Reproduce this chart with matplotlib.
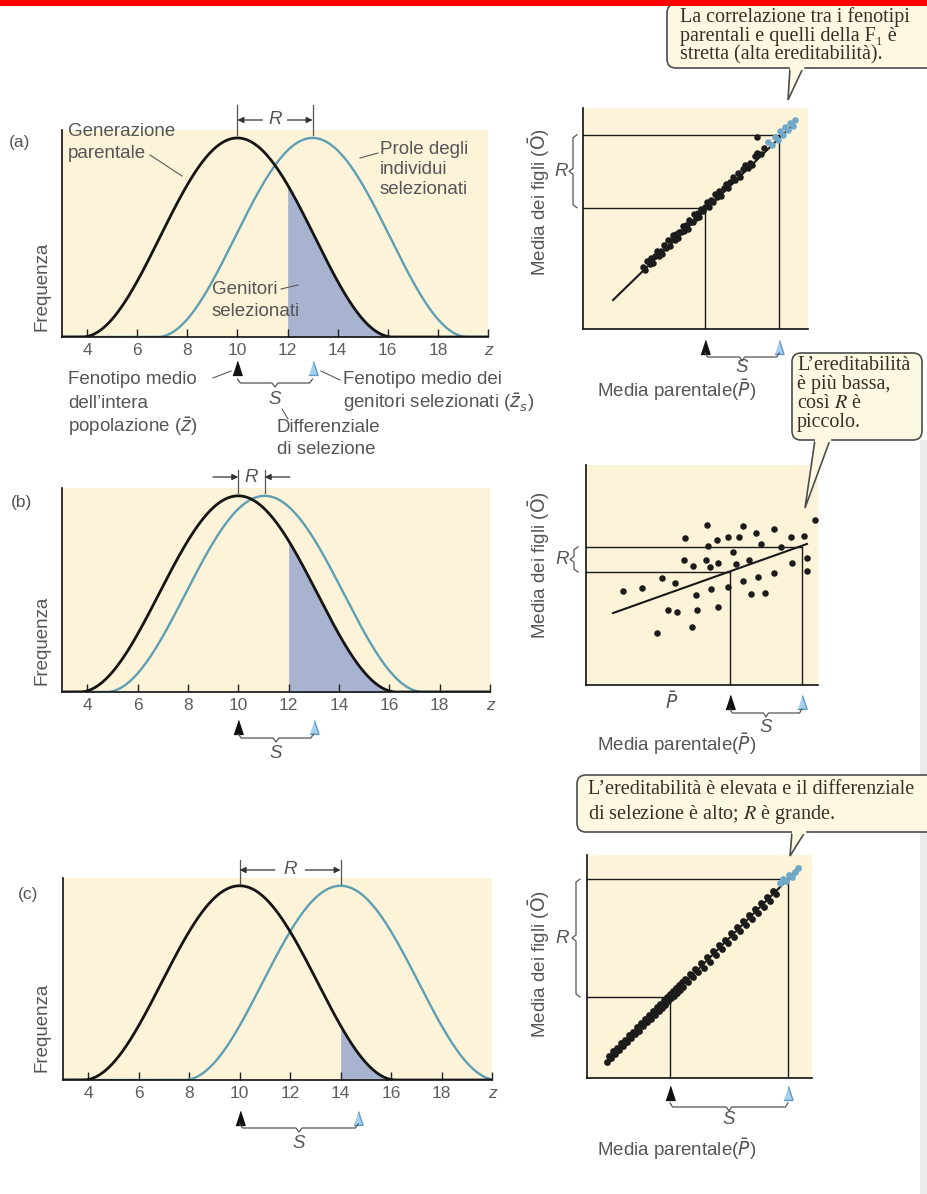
import matplotlib
matplotlib.use('Agg')
import matplotlib.pyplot as plt
import numpy as np
from matplotlib.patches import FancyBboxPatch, Polygon, Rectangle
from matplotlib.transforms import blended_transform_factory as blend

plt.rcParams['font.family'] = ['Liberation Sans', 'DejaVu Sans']

W, H = 927, 1194

# --- distribuzioni fenotipiche (pannelli a sinistra), unita di z ---
z_ticks = [4, 6, 8, 10, 12, 14, 16, 18, 20]
z_labels = ['4', '6', '8', '10', '12', '14', '16', '18', 'z']
parent_mean = [10.0, 10.0, 10.0]
offspring_mean = [13.0, 11.05, 14.0]
halfwidth = [6.2, 6.3, 6.2]
cut_off = [12.0, 12.0, 14.0]
selected_mean = [13.0, 13.0, 14.7]

# --- regressione genitori-figli (pannelli a destra) ---
S_diff = [3.0, 3.0, 4.7]
R_resp = [3.0, 1.05, 4.7]
reg_x = [[6.27, 13.57], [5.13, 13.21], [7.49, 15.18]]
reg_y = [[6.21, 13.42], [8.29, 11.17], [7.45, 15.18]]
right_xlim = [(5.05, 14.17), (4.0, 13.67), (6.69, 15.66)]
right_ylim = [(5.02, 14.1), (5.29, 14.46), (6.77, 15.66)]

pa_x = [7.50, 7.58, 7.66, 7.75, 7.82, 7.90, 7.98, 8.05, 8.12, 8.20,
        8.27, 8.35, 8.42, 8.50, 8.56, 8.63, 8.70, 8.76, 8.83, 8.90,
        8.96, 9.03, 9.10, 9.16, 9.22, 9.30, 9.36, 9.43, 9.50, 9.56,
        9.63, 9.70, 9.77, 9.84, 9.92, 10.00, 10.08, 10.16, 10.24, 10.32,
        10.40, 10.48, 10.57, 10.66, 10.75, 10.84, 10.93, 11.02, 11.12, 11.22,
        11.32, 11.42, 11.52, 11.62, 11.72, 11.82, 11.92, 12.02, 12.12, 12.25,
        12.38, 12.10]
pa_y = [7.58, 7.46, 7.81, 7.70, 7.92, 7.75, 8.03, 8.23, 8.02, 8.22,
        8.09, 8.47, 8.36, 8.66, 8.42, 8.67, 8.90, 8.68, 8.93, 8.74,
        9.02, 9.01, 9.24, 9.04, 9.30, 9.12, 9.48, 9.43, 9.40, 9.73,
        9.58, 9.79, 9.62, 9.97, 9.85, 10.03, 10.23, 10.03, 10.31, 10.23,
        10.58, 10.44, 10.68, 10.49, 10.80, 10.98, 10.82, 11.04, 11.28, 11.14,
        11.42, 11.28, 11.58, 11.74, 11.62, 11.86, 11.76, 12.11, 12.25, 12.19,
        12.46, 12.90]
pa_blue_x = [12.55, 12.70, 12.82, 12.95, 13.05, 13.15, 13.25, 13.35, 13.45, 13.55, 13.65]
pa_blue_y = [12.70, 12.60, 12.92, 12.80, 13.15, 12.98, 13.30, 13.20, 13.50, 13.38, 13.60]

pb_x = [5.55, 6.35, 7.15, 7.71, 6.97, 7.43, 7.78, 8.13, 8.09, 8.45,
        8.57, 8.61, 8.40, 9.03, 9.10, 8.99, 9.17, 9.19, 9.47, 9.51,
        9.49, 9.93, 9.93, 10.14, 10.25, 10.39, 10.56, 10.56, 10.81, 10.86,
        11.08, 11.18, 11.29, 11.46, 11.85, 11.85, 12.11, 12.54, 12.60, 13.08,
        13.22, 13.22, 13.54]
pb_y = [9.21, 9.35, 9.74, 9.53, 7.45, 8.42, 8.32, 11.43, 10.50, 10.26,
        9.04, 8.42, 7.72, 11.96, 11.10, 10.48, 10.22, 9.28, 11.33, 10.39,
        8.53, 11.47, 9.36, 10.85, 10.33, 11.47, 11.92, 9.64, 10.50, 9.07,
        11.64, 9.81, 11.15, 9.11, 11.78, 9.97, 11.06, 11.44, 10.36, 11.50,
        10.60, 10.05, 12.17]

pc_x = [7.50, 7.58, 7.66, 7.74, 7.82, 7.90, 7.98, 8.06, 8.14, 8.22,
        8.30, 8.38, 8.46, 8.54, 8.62, 8.70, 8.78, 8.86, 8.94, 9.02,
        9.10, 9.18, 9.26, 9.34, 9.42, 9.50, 9.56, 9.62, 9.68, 9.74,
        9.80, 9.86, 9.92, 9.98, 10.04, 10.10, 10.16, 10.22, 10.28, 10.34,
        10.40, 10.46, 10.52, 10.60, 10.70, 10.80, 10.90, 11.00, 11.10, 11.22,
        11.34, 11.46, 11.58, 11.70, 11.82, 11.94, 12.06, 12.18, 12.30, 12.42,
        12.54, 12.66, 12.78, 12.90, 13.02, 13.14, 13.26, 13.38, 13.50, 13.62,
        13.74, 13.86, 13.98, 14.10, 14.22]
pc_y = [7.42, 7.66, 7.58, 7.86, 7.74, 7.98, 7.88, 8.16, 8.04, 8.30,
        8.20, 8.48, 8.36, 8.62, 8.52, 8.80, 8.66, 8.96, 8.84, 9.12,
        9.00, 9.28, 9.14, 9.44, 9.30, 9.62, 9.44, 9.72, 9.58, 9.86,
        9.70, 9.98, 9.82, 10.10, 9.94, 10.22, 10.04, 10.34, 10.14, 10.46,
        10.28, 10.58, 10.40, 10.72, 10.58, 10.92, 10.78, 11.12, 10.98, 11.34,
        11.16, 11.58, 11.40, 11.82, 11.66, 12.06, 11.92, 12.28, 12.16, 12.54,
        12.40, 12.78, 12.64, 13.02, 12.88, 13.26, 13.12, 13.50, 13.36, 13.74,
        13.60, 13.98, 13.84, 14.22, 14.10]
pc_blue_x = [14.38, 14.50, 14.62, 14.74, 14.86, 14.98, 15.10]
pc_blue_y = [14.55, 14.70, 14.62, 14.85, 14.78, 15.00, 15.15]

CREAM = '#fcf3d9'
BLUE = '#5f9fb3'
SHADE = '#a8b3cf'
TXT = '#555555'
BOXFC = '#fdf8e2'
TRI = [(-0.33, -0.5), (0.33, -0.5), (0.0, 0.5)]
FS = 13.5
SERIF = ['Liberation Serif', 'DejaVu Serif']

fig = plt.figure(figsize=(W / 100, H / 100), dpi=100)
fig.patch.set_facecolor('white')
ov = fig.add_axes([0, 0, 1, 1], zorder=10)
ov.set_xlim(0, W)
ov.set_ylim(H, 0)
ov.axis('off')


def px_axes(box):
    x0, y0, x1, y1 = box
    return fig.add_axes([x0 / W, 1 - y1 / H, (x1 - x0) / W, (y1 - y0) / H])


def bell(x, mu, w):
    d = (x - mu) / w
    return np.where(np.abs(d) < 1, 0.5 * (1 + np.cos(np.pi * d)), 0.0)


def txt(x, y, s, size=FS, **kw):
    kw.setdefault('color', TXT)
    kw.setdefault('va', 'center')
    return ov.text(x, y, s, fontsize=size, **kw)


def leader(x0, y0, x1, y1):
    ov.plot([x0, x1], [y0, y1], color='#5a5a5a', lw=0.8)


def triangles(ax, xa, xb, ypx):
    tr = blend(ax.transData, ov.transData)
    ov.plot([xa], [ypx], marker=TRI, ms=10, color='#111111', transform=tr, clip_on=False)
    ov.plot([xb], [ypx], marker=TRI, ms=10, mfc='#a8d0ec', mec='#5d9cc6', mew=1.0,
            transform=tr, clip_on=False)


def hbrace(ax, xa, xb, ypx, dx=0.12):
    tr = blend(ax.transData, ov.transData)
    xm = (xa + xb) / 2
    ov.plot([xa, xa + dx, xm - dx, xm, xm + dx, xb - dx, xb],
            [ypx - 4, ypx, ypx, ypx + 4, ypx, ypx, ypx - 4],
            color='#555555', lw=0.9, transform=tr, clip_on=False)


def vbrace(ax, xpx, ya, yb, dy=0.12):
    tr = blend(ov.transData, ax.transData)
    ym = (ya + yb) / 2
    ov.plot([xpx + 4, xpx, xpx, xpx - 4, xpx, xpx, xpx + 4],
            [ya, ya + dy, ym - dy, ym, ym + dy, yb - dy, yb],
            color='#555555', lw=0.9, transform=tr, clip_on=False)


def r_bracket(ax, xa, xb, ytop, ybot, yarr, inward, tail):
    tr = blend(ax.transData, ov.transData)
    for xv in (xa, xb):
        ov.plot([xv, xv], [ytop, ybot], color='#555555', lw=0.9, transform=tr, clip_on=False)
    xm = (xa + xb) / 2
    ap = dict(arrowstyle='-|>', mutation_scale=9, lw=0.9, color='#333333',
              shrinkA=0, shrinkB=0)
    if inward:
        starts = [(xa - tail, xa), (xb + tail, xb)]
    else:
        starts = [(xm - tail, xa), (xm + tail, xb)]
    for xs, xe in starts:
        ov.annotate('', xy=(xe, yarr), xytext=(xs, yarr), xycoords=tr,
                    textcoords=tr, arrowprops=ap, annotation_clip=False)
    ov.text(xm, yarr, 'R', transform=tr, ha='center', va='center', fontsize=FS,
            style='italic', color=TXT)


def left_panel(i, box):
    ax = px_axes(box)
    ax.set_facecolor(CREAM)
    xs = np.linspace(3, 20, 1200)
    yp = bell(xs, parent_mean[i], halfwidth[i])
    yo = bell(xs, offspring_mean[i], halfwidth[i])
    ax.fill_between(xs, 0, yp, where=xs >= cut_off[i], color=SHADE, lw=0, zorder=1)
    ax.plot(xs, yo, color=BLUE, lw=1.7, zorder=2)
    ax.plot(xs, yp, color='#151515', lw=2.0, zorder=3)
    ax.set_xlim(3, 20)
    ax.set_ylim(0, 1.04)
    for sp in ('top', 'right'):
        ax.spines[sp].set_visible(False)
    for sp in ('left', 'bottom'):
        ax.spines[sp].set_linewidth(1.2)
        ax.spines[sp].set_color('#111111')
    ax.set_xticks(z_ticks)
    ax.set_xticklabels(z_labels)
    ax.tick_params(axis='x', direction='in', length=6, width=1, color='#222222',
                   labelcolor='#5e5e5e', labelsize=12.5, pad=4)
    ax.get_xticklabels()[-1].set_style('italic')
    ax.set_yticks([])
    return ax


def right_panel(i, box, px, py, bx=None, by=None, s=16):
    ax = px_axes(box)
    ax.set_facecolor(CREAM)
    x0, x1 = right_xlim[i]
    y0, y1 = right_ylim[i]
    m = parent_mean[i]
    S, R = S_diff[i], R_resp[i]
    kw = dict(color='#1a1a1a', lw=1.0, zorder=2)
    ax.plot([x0, m], [m, m], **kw)
    ax.plot([x0, m + S], [m + R, m + R], **kw)
    ax.plot([m, m], [y0, m], **kw)
    ax.plot([m + S, m + S], [y0, m + R], **kw)
    ax.plot(reg_x[i], reg_y[i], color='#1a1a1a', lw=1.5, zorder=3)
    ax.scatter(px, py, s=s, color='#1c1c1c', lw=0, zorder=4)
    if bx is not None:
        ax.scatter(bx, by, s=s, color='#6fa8c8', lw=0, zorder=4)
    ax.set_xlim(x0, x1)
    ax.set_ylim(y0, y1)
    for sp in ('top', 'right'):
        ax.spines[sp].set_visible(False)
    for sp in ('left', 'bottom'):
        ax.spines[sp].set_linewidth(1.2)
        ax.spines[sp].set_color('#111111')
    ax.set_xticks([])
    ax.set_yticks([])
    return ax


def callout(x0, y0, x1, y1, ba, bb, tip, lines, ys, xt):
    ov.add_patch(FancyBboxPatch((x0, y0), x1 - x0, y1 - y0,
                                boxstyle='round,pad=0,rounding_size=9',
                                fc=BOXFC, ec='#4d4d4d', lw=1.2, zorder=5))
    ov.add_patch(Polygon([(ba, y1), tip, (bb, y1)], closed=False, fc=BOXFC,
                         ec='#4d4d4d', lw=1.2, zorder=6))
    ov.plot([ba + 1, bb - 1], [y1, y1], color=BOXFC, lw=2.4, zorder=7)
    for s, y in zip(lines, ys):
        ov.text(xt, y, s, family=SERIF, fontsize=14.5, color='#3a2e24', va='center',
                math_fontfamily='stix', zorder=8)


LBOX = [(62, 130, 488, 337), (62, 488, 490, 692), (63, 878, 492, 1080)]
RBOX = [(583, 108, 808, 329), (586, 465, 818, 685), (587, 855, 812, 1078)]

# bordo grigio della pagina a destra
ov.add_patch(Rectangle((920, 440), 7, H - 440, color='#ebebeb', lw=0, zorder=1))

tags = ['(a)', '(b)', '(c)']
tag_pos = [(20, 143), (22, 503), (28, 895)]
freq_y = [286, 640, 1027]
rb_top = [105, 470, 860]
rb_bot = [135, 493, 884]
rb_arr = [120, 477, 870]
rb_inward = [False, True, False]
rb_tail = [0.5, 1.0, 0.6]
tri_y = [368, 727, 1118]
brace_y = [383, 738, 1128]
s_y = [400, 753, 1143]

for i in range(3):
    ax = left_panel(i, LBOX[i])
    txt(*tag_pos[i], tags[i], size=12.5, ha='center')
    txt(42, freq_y[i], 'Frequenza', rotation=90, ha='center')
    r_bracket(ax, parent_mean[i], offspring_mean[i], rb_top[i], rb_bot[i], rb_arr[i],
              rb_inward[i], rb_tail[i])
    triangles(ax, parent_mean[i], selected_mean[i], tri_y[i])
    hbrace(ax, parent_mean[i], selected_mean[i], brace_y[i])
    ov.text((parent_mean[i] + selected_mean[i]) / 2, s_y[i], 'S',
            transform=blend(ax.transData, ov.transData), ha='center', va='center',
            fontsize=FS, style='italic', color=TXT)

# annotazioni del pannello (a)
txt(68, 132, 'Generazione')
txt(68, 153, 'parentale')
leader(150, 155, 182, 176)
txt(380, 149, 'Prole degli')
txt(380, 170, 'individui')
txt(380, 190, 'selezionati')
leader(378, 153, 360, 158)
txt(212, 290, 'Genitori')
txt(212, 312, 'selezionati')
leader(281, 289, 298, 285)
txt(68, 380, 'Fenotipo medio')
txt(68, 403, 'dell’intera')
txt(68, 427, 'popolazione ($\\bar{z}$)')
leader(213, 378, 231, 371)
txt(343, 380, 'Fenotipo medio dei')
txt(343, 403, 'genitori selezionati ($\\bar{z}_s$)')
leader(321, 371, 340, 380)
txt(277, 427, 'Differenziale')
txt(277, 450, 'di selezione')
leader(282, 409, 288, 419)

# pannelli di destra
rights = [
    right_panel(0, RBOX[0], pa_x, pa_y, pa_blue_x, pa_blue_y, s=22),
    right_panel(1, RBOX[1], pb_x, pb_y, s=22),
    right_panel(2, RBOX[2], pc_x, pc_y, pc_blue_x, pc_blue_y, s=24),
]
ylab_y = [202, 565, 964]
rbrace_x = [573, 574, 576]
rlab_x = [561, 562, 562]
tri_y_r = [347, 702, 1093]
brace_y_r = [357, 713, 1107]
s_y_r = [368, 727, 1120]
media_y = [390, 744, 1149]
for i, ax in enumerate(rights):
    m = parent_mean[i]
    S, R = S_diff[i], R_resp[i]
    txt(539, ylab_y[i], 'Media dei figli ($\\bar{\\mathrm{O}}$)', rotation=90, ha='center')
    vbrace(ax, rbrace_x[i], m, m + R)
    ov.text(rlab_x[i], m + R / 2, 'R', transform=blend(ov.transData, ax.transData),
            ha='center', va='center', fontsize=FS, style='italic', color=TXT)
    triangles(ax, m, m + S, tri_y_r[i])
    hbrace(ax, m, m + S, brace_y_r[i], dx=0.1)
    ov.text(m + S / 2, s_y_r[i], 'S', transform=blend(ax.transData, ov.transData),
            ha='center', va='center', fontsize=FS, style='italic', color=TXT)
    txt(677, media_y[i], 'Media parentale($\\bar{P}$)', ha='center')
txt(672, 702, '$\\bar{P}$', ha='center')

# fumetti
callout(667, 4, 940, 68, 790, 803, (788, 100),
        ['La correlazione tra i fenotipi', 'parentali e quelli della F₁ è',
         'stretta (alta ereditabilità).'], [17, 37, 55], 680)
callout(792, 353, 922, 440, 815, 830, (805, 508),
        ['L’ereditabilità', 'è più bassa,', 'così $\\mathit{R}$ è', 'piccolo.'],
        [365, 385, 403, 423], 797)
callout(577, 775, 940, 832, 792, 805, (790, 856),
        ['L’ereditabilità è elevata e il differenziale',
         'di selezione è alto; $\\mathit{R}$ è grande.'], [790, 815], 588)

ov.add_patch(Rectangle((0, 0), W, 6, color='#ff0000', lw=0, zorder=20))

fig.savefig('out.png', dpi=100)
